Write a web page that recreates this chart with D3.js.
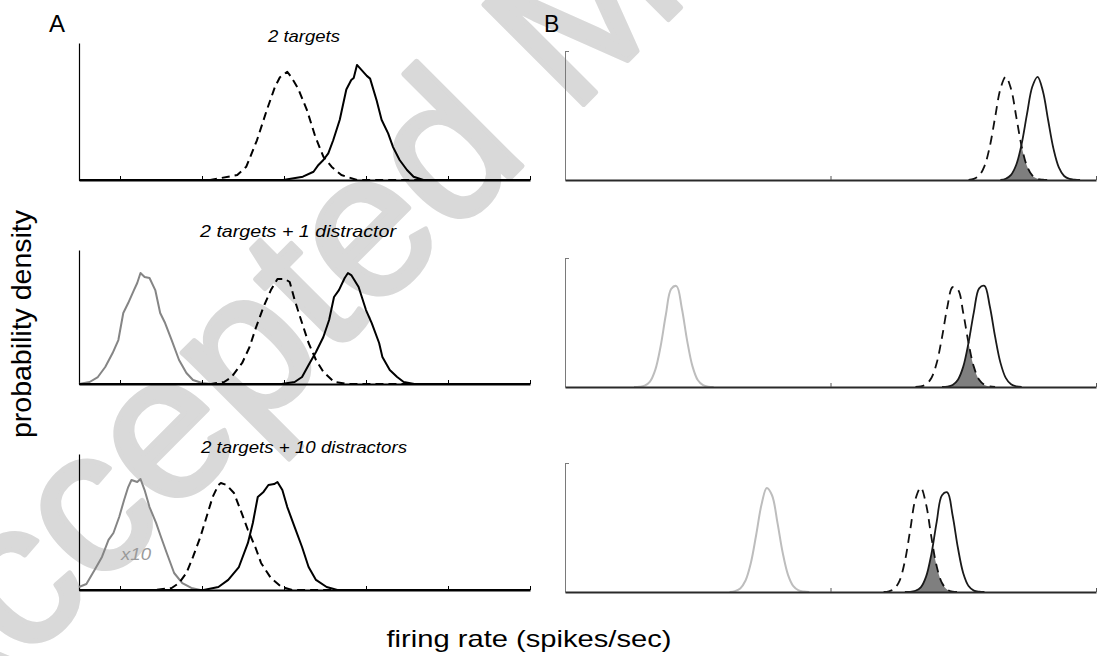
<!DOCTYPE html>
<html>
<head>
<meta charset="utf-8">
<script src="https://cdn.jsdelivr.net/npm/d3@7"></script>
<style>
  body { margin: 0; background: #fff; }
  svg text { font-family: "Liberation Sans", Arial, sans-serif; }
</style>
</head>
<body>
<div id="chart"></div>
<script>
// Size of the whole figure
const width = 1098;
const height = 656;

// ---- data: [firing rate (spikes/sec), density relative to axis height] ----

// Panel A, row 1: 2 targets
const a1Dashed = [[5,0],[21.0,0],[24.3,0.036],[25.4,0.097],[26.7,0.29],[27.9,0.51],[28.9,0.68],[29.5,0.75],[30.4,0.79],[30.9,0.75],[31.7,0.67],[32.8,0.51],[33.8,0.32],[34.8,0.17],[35.8,0.097],[37.0,0.036],[38.9,0],[60,0]];
const a1Solid = [[5,0],[29.9,0],[32.3,0.024],[33.6,0.06],[34.2,0.11],[34.8,0.146],[35.4,0.195],[36.0,0.29],[36.8,0.44],[37.6,0.66],[38.2,0.73],[38.5,0.745],[38.9,0.84],[39.5,0.80],[40.1,0.76],[40.5,0.74],[41.3,0.58],[41.9,0.44],[42.7,0.34],[43.3,0.24],[44.1,0.146],[45.0,0.073],[45.8,0.024],[47.0,0],[60,0]];

// Panel A, row 2: 2 targets + 1 distractor
const a2Gray = [[5,0],[6.3,0.015],[7.3,0.052],[8.2,0.127],[9.1,0.231],[9.8,0.328],[10.4,0.530],[11.0,0.604],[11.7,0.701],[12.1,0.754],[12.5,0.828],[13.0,0.799],[13.6,0.791],[14.3,0.701],[14.9,0.530],[15.5,0.455],[16.3,0.328],[17.2,0.179],[18.1,0.082],[18.9,0.030],[20.0,0.007],[21.1,0]];
const a2Dashed = [[5,0],[21.1,0],[22.7,0.015],[23.6,0.052],[24.9,0.157],[25.8,0.276],[26.6,0.425],[27.5,0.575],[28.4,0.701],[29.2,0.784],[30.1,0.784],[30.7,0.761],[31.3,0.627],[32.2,0.455],[33.0,0.306],[33.9,0.179],[34.8,0.090],[36.1,0.015],[37.8,0],[60,0]];
const a2Solid = [[5,0],[29.7,0],[31.3,0.015],[32.2,0.052],[33.0,0.142],[33.9,0.239],[34.8,0.351],[35.5,0.478],[36.1,0.649],[36.7,0.701],[37.4,0.791],[37.8,0.828],[38.2,0.813],[39.1,0.724],[40.0,0.552],[40.7,0.455],[41.6,0.306],[42.0,0.201],[42.9,0.104],[43.8,0.052],[44.6,0.015],[45.9,0],[60,0]];

// Panel A, row 3: 2 targets + 10 distractors (gray curve shown x10)
const a3Gray = [[5,0.022],[5.9,0.044],[6.9,0.147],[7.8,0.243],[8.6,0.368],[9.2,0.419],[9.9,0.537],[10.5,0.662],[11.0,0.757],[11.4,0.809],[12.1,0.794],[12.5,0.816],[13.0,0.735],[13.6,0.610],[14.4,0.493],[15.0,0.390],[15.7,0.272],[16.6,0.125],[17.6,0.051],[18.7,0.015],[19.8,0]];
const a3Dashed = [[5,0],[14.3,0],[16.3,0.015],[17.2,0.051],[18.1,0.125],[18.9,0.243],[19.8,0.390],[20.7,0.566],[21.3,0.684],[22.0,0.772],[22.3,0.787],[23.0,0.772],[23.9,0.713],[24.7,0.588],[25.6,0.441],[26.5,0.316],[27.2,0.199],[28.4,0.088],[29.7,0.022],[31.0,0],[60,0]];
const a3Solid = [[5,0],[20.2,0],[22.0,0.022],[23.2,0.074],[24.5,0.169],[25.6,0.346],[26.2,0.493],[26.8,0.684],[27.5,0.721],[28.1,0.772],[28.8,0.779],[29.2,0.794],[29.8,0.735],[30.4,0.610],[31.3,0.463],[32.2,0.316],[33.0,0.169],[33.9,0.074],[35.2,0.022],[36.5,0],[60,0]];

// Panel B, row 1
const b1Dashed = [[76,0],[77,0.009],[78,0.035],[79,0.108],[80,0.26],[81,0.486],[82,0.706],[83,0.80],[84,0.706],[85,0.486],[86,0.26],[87,0.108],[88,0.035],[89,0.009],[90,0.002],[91,0]];
const b1Solid = [[82,0],[83,0.010],[84,0.040],[85,0.12],[86,0.28],[87,0.51],[88,0.723],[89,0.80],[90,0.688],[91,0.461],[92,0.241],[93,0.098],[94,0.031],[95,0.008],[96,0.002],[97,0]];

// Panel B, row 2
const b2Gray = [[13,0],[14,0.002],[15,0.010],[16,0.042],[17,0.133],[18,0.314],[19,0.562],[20,0.761],[21,0.782],[22,0.610],[23,0.360],[24,0.162],[25,0.054],[26,0.014],[27,0.002],[28,0]];
const b2Dashed = [[66,0],[67,0.005],[68,0.021],[69,0.070],[70,0.186],[71,0.385],[72,0.619],[73,0.774],[74,0.755],[75,0.574],[76,0.340],[77,0.156],[78,0.056],[79,0.016],[80,0.004],[81,0]];
const b2Solid = [[71,0],[72,0.003],[73,0.016],[74,0.057],[75,0.158],[76,0.344],[77,0.581],[78,0.765],[79,0.784],[80,0.626],[81,0.390],[82,0.189],[83,0.071],[84,0.021],[85,0.005],[86,0]];

// Panel B, row 3
const b3Gray = [[31,0],[32,0.007],[33,0.028],[34,0.089],[35,0.225],[36,0.442],[37,0.676],[38,0.806],[39,0.748],[40,0.540],[41,0.304],[42,0.133],[43,0.045],[44,0.012],[45,0.003],[46,0]];
const b3Dashed = [[60,0],[61,0.005],[62,0.024],[63,0.087],[64,0.237],[65,0.478],[66,0.720],[67,0.809],[68,0.679],[69,0.425],[70,0.199],[71,0.070],[72,0.018],[73,0.003],[74,0]];
const b3Solid = [[64,0],[65,0.001],[66,0.010],[67,0.036],[68,0.119],[69,0.294],[70,0.544],[71,0.750],[72,0.772],[73,0.593],[74,0.341],[75,0.146],[76,0.047],[77,0.011],[78,0.002],[79,0]];

// Tick values and labels
const aTicks = [10, 20, 30, 40, 50, 60];
const bTicks = [50, 100];
const rowTitles = ["2 targets", "2 targets + 1 distractor", "2 targets + 10 distractors"];

// ---- layout ----
const svg = d3.select("#chart")
    .append("svg")
    .attr("width", width)
    .attr("height", height);

svg.append("rect").attr("width", width).attr("height", height).attr("fill", "#fff");

const xA = d3.scaleLinear().domain([5, 60]).range([79, 530]);
const xB = d3.scaleLinear().domain([0, 100]).range([565, 1096]);

const aRows = [
    {top: 43, base: 180, title: rowTitles[0], tx: 304, ty: 42, tw: 72, curves: [[a1Dashed, "dash"], [a1Solid, "solid"]]},
    {top: 250, base: 384, title: rowTitles[1], tx: 298, ty: 237, tw: 196, curves: [[a2Gray, "gray"], [a2Dashed, "dash"], [a2Solid, "solid"]]},
    {top: 454, base: 590, title: rowTitles[2], tx: 304, ty: 453, tw: 206, curves: [[a3Gray, "gray"], [a3Dashed, "dash"], [a3Solid, "solid"]]}
];
const bRows = [
    {top: 51, base: 180, gray: null, dashed: b1Dashed, solid: b1Solid},
    {top: 258, base: 387, gray: b2Gray, dashed: b2Dashed, solid: b2Solid},
    {top: 463, base: 592, gray: b3Gray, dashed: b3Dashed, solid: b3Solid}
];

// watermark (sits behind the plots)
svg.append("text")
    .attr("transform", "translate(-73,761) rotate(-45)")
    .attr("font-size", 205)
    .attr("fill", "#d9d9d9")
    .attr("stroke", "#d9d9d9")
    .attr("stroke-width", 5)
    .attr("stroke-linejoin", "round")
    .text("Accepted Manuscript");

// ---- panel A ----
aRows.forEach(function(r, i) {
    const y = d3.scaleLinear().domain([0, 1]).range([r.base, r.top]);
    const g = svg.append("g");

    const line = d3.line()
        .x(function(d) { return xA(d[0]); })
        .y(function(d) { return y(d[1]); });

    // y axis (no ticks)
    g.append("g")
        .attr("transform", "translate(" + xA.range()[0] + ",0)")
        .call(d3.axisLeft(y).tickValues([]).tickSizeOuter(0))
        .select(".domain").attr("stroke", "#000").attr("stroke-width", 1.2);

    r.curves.forEach(function(c) {
        g.append("path")
            .datum(c[0])
            .attr("d", line)
            .attr("fill", "none")
            .attr("stroke", c[1] === "gray" ? "#858585" : "#000")
            .attr("stroke-width", 2)
            .attr("stroke-linejoin", "round")
            .attr("stroke-dasharray", c[1] === "dash" ? "8,5" : null);
    });

    // x axis with inside ticks
    const ax = g.append("g")
        .attr("transform", "translate(0," + r.base + ")")
        .call(d3.axisBottom(xA).tickValues(aTicks).tickSizeInner(-4).tickSizeOuter(0).tickFormat(""));
    ax.select(".domain").attr("stroke", "#000").attr("stroke-width", 2.2);
    ax.selectAll(".tick line").attr("stroke", "#000").attr("stroke-width", 1);

    // row title
    g.append("text")
        .attr("x", r.tx).attr("y", r.ty)
        .attr("text-anchor", "middle")
        .attr("font-style", "italic")
        .attr("font-size", 17)
        .attr("textLength", r.tw)
        .attr("lengthAdjust", "spacingAndGlyphs")
        .text(r.title);
});

// "x10" note on the grey curve of the last row
svg.append("text")
    .attr("x", 121).attr("y", 560)
    .attr("font-style", "italic")
    .attr("font-size", 16)
    .attr("fill", "#9a9a9a")
    .attr("textLength", 30)
    .attr("lengthAdjust", "spacingAndGlyphs")
    .text("x10");

// ---- panel B ----
bRows.forEach(function(r, i) {
    const y = d3.scaleLinear().domain([0, 1]).range([r.base, r.top]);
    const g = svg.append("g");

    const line = d3.line()
        .curve(d3.curveCatmullRom)
        .x(function(d) { return xB(d[0]); })
        .y(function(d) { return y(d[1]); });
    const area = d3.area()
        .curve(d3.curveCatmullRom)
        .x(function(d) { return xB(d[0]); })
        .y0(r.base)
        .y1(function(d) { return y(d[1]); });

    // y axis with one small tick at the top
    const ay = g.append("g")
        .attr("transform", "translate(" + xB.range()[0] + ",0)")
        .call(d3.axisLeft(y).tickValues([1]).tickSizeInner(-4).tickSizeOuter(0).tickFormat(""));
    ay.select(".domain").attr("stroke", "#7a7a7a").attr("stroke-width", 1);
    ay.selectAll(".tick line").attr("stroke", "#7a7a7a");

    // overlap of the two target distributions
    svg.append("clipPath")
        .attr("id", "clip-b" + i)
        .append("path")
        .attr("d", area(r.dashed));
    g.append("path")
        .attr("d", area(r.solid))
        .attr("fill", "#7f7f7f")
        .attr("clip-path", "url(#clip-b" + i + ")");

    if (r.gray) {
        g.append("path")
            .datum(r.gray)
            .attr("d", line)
            .attr("fill", "none")
            .attr("stroke", "#bdbdbd")
            .attr("stroke-width", 2);
    }
    g.append("path")
        .datum(r.dashed)
        .attr("d", line)
        .attr("fill", "none")
        .attr("stroke", "#111")
        .attr("stroke-width", 1.8)
        .attr("stroke-dasharray", "9,6");
    g.append("path")
        .datum(r.solid)
        .attr("d", line)
        .attr("fill", "none")
        .attr("stroke", "#1a1a1a")
        .attr("stroke-width", 1.8);

    const ax = g.append("g")
        .attr("transform", "translate(0," + r.base + ")")
        .call(d3.axisBottom(xB).tickValues(bTicks).tickSizeInner(-4).tickSizeOuter(0).tickFormat(""));
    ax.select(".domain").attr("stroke", "#2a2a2a").attr("stroke-width", 2);
    ax.selectAll(".tick line").attr("stroke", "#555");
});

// ---- panel letters and axis titles ----
svg.append("text").attr("x", 49).attr("y", 32).attr("font-size", 24).text("A");
svg.append("text").attr("x", 544).attr("y", 32).attr("font-size", 23).text("B");

svg.append("text")
    .attr("transform", "translate(31,324) rotate(-90)")
    .attr("text-anchor", "middle")
    .attr("font-size", 28)
    .attr("textLength", 228)
    .attr("lengthAdjust", "spacingAndGlyphs")
    .text("probability density");

svg.append("text")
    .attr("x", 529).attr("y", 647)
    .attr("text-anchor", "middle")
    .attr("font-size", 24)
    .attr("textLength", 285)
    .attr("lengthAdjust", "spacingAndGlyphs")
    .text("firing rate (spikes/sec)");
</script>
</body>
</html>
